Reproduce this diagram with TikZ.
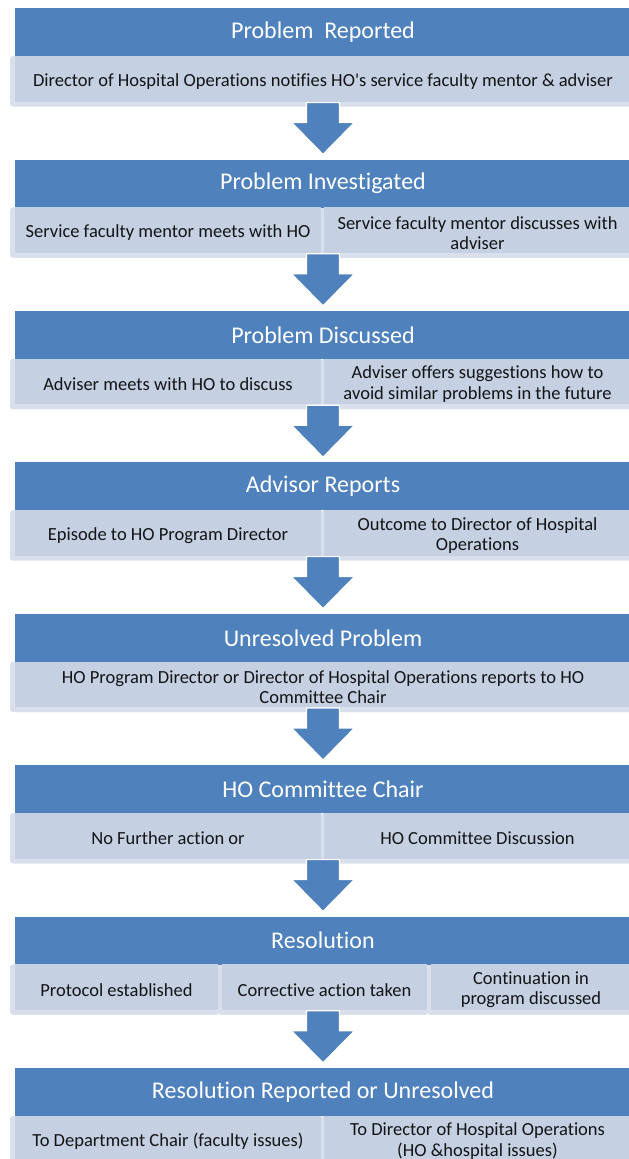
\documentclass[tikz,border=0pt]{standalone}
\usepackage{fontspec}
\setmainfont{Carlito}[Ligatures=CommonOff]
\usetikzlibrary{calc}
\definecolor{hdr}{HTML}{4F81BD}
\definecolor{cellc}{HTML}{C5D0E3}
\definecolor{cellfr}{HTML}{D9DFEB}
\definecolor{txt}{HTML}{141414}
\begin{document}
\begin{tikzpicture}[x=1pt,y=-1pt,
  header/.style={fill=hdr, draw=none, minimum width=616pt, minimum height=48pt, inner sep=0pt,
    text=white, font=\fontsize{24}{28}\selectfont, anchor=north},
  cell/.style={draw=none, inner sep=0pt, align=center,
    font=\fontsize{18.5}{20.5}\selectfont, text=txt},
  frame/.style={fill=cellfr, rounded corners=3pt},
  dark/.style={fill=cellc},
  blockarrow/.style={fill=hdr, draw=white, line width=1.2pt, line join=miter},
]
\useasboundingbox (0,0) rectangle (629,1159);
\clip (0,0) rectangle (629,1159);
\fill[white] (0,0) rectangle (629,1159);

% ---------- light frames of the cells ----------
\fill[frame] (10,56) rectangle (640,106.5);
\fill[frame] (10,207.4) rectangle (322,257.9);
\fill[frame] (321,207.4) rectangle (640,257.9);
\fill[frame] (10,358.8) rectangle (322,409.3);
\fill[frame] (321,358.8) rectangle (640,409.3);
\fill[frame] (10,510.2) rectangle (322,560.7);
\fill[frame] (321,510.2) rectangle (640,560.7);
\fill[frame] (10,661.6) rectangle (640,712.1);
\fill[frame] (10,813) rectangle (322,863.5);
\fill[frame] (321,813) rectangle (640,863.5);
\fill[frame] (10,964.4) rectangle (219,1014.9);
\fill[frame] (218,964.4) rectangle (428,1014.9);
\fill[frame] (427,964.4) rectangle (640,1014.9);
\fill[frame] (10,1115.8) rectangle (322,1166.3);
\fill[frame] (321,1115.8) rectangle (640,1166.3);

% ---------- headers ----------
\node[header] (h0) at (323,8) {Problem~ Reported};
\node[header] (h1) at (323,159.4) {Problem Investigated};
\node[header] (h2) at (323,310.8) {Problem Discussed};
\node[header] (h3) at (323,462.2) {Advisor Reports};
\node[header] (h4) at (323,613.6) {Unresolved Problem};
\node[header] (h5) at (323,765) {HO Committee Chair};
\node[header] (h6) at (323,916.4) {Resolution};
\node[header] (h7) at (323,1067.8) {Resolution Reported or Unresolved};

% ---------- block arrows ----------
\foreach \n in {h1,h2,h3,h4,h5,h6,h7}{
  \draw[blockarrow] ($(\n.north)+(-16.5,-57)$) -- ($(\n.north)+(-16.5,-37)$)
    -- ($(\n.north)+(-31.5,-37)$) -- ($(\n.north)+(0,-5)$)
    -- ($(\n.north)+(31.5,-37)$) -- ($(\n.north)+(16.5,-37)$)
    -- ($(\n.north)+(16.5,-57)$) -- cycle;
}

% ---------- darker cell faces ----------
\fill[dark] (15,56) rectangle (640,101.5);
\fill[dark] (15,207.4) rectangle (321,252.9);
\fill[dark] (324,207.4) rectangle (640,252.9);
\fill[dark] (15,358.8) rectangle (321,404.3);
\fill[dark] (324,358.8) rectangle (640,404.3);
\fill[dark] (15,510.2) rectangle (321,555.7);
\fill[dark] (324,510.2) rectangle (640,555.7);
\fill[dark] (15,661.6) rectangle (640,707.1);
\fill[dark] (15,813) rectangle (321,858.5);
\fill[dark] (324,813) rectangle (640,858.5);
\fill[dark] (15,964.4) rectangle (218,1009.9);
\fill[dark] (222,964.4) rectangle (427,1009.9);
\fill[dark] (431,964.4) rectangle (640,1009.9);
\fill[dark] (15,1115.8) rectangle (321,1161.3);
\fill[dark] (324,1115.8) rectangle (640,1161.3);

% ---------- cell texts ----------
\node[cell] (c0) at (323,81.5)
  {Director of Hospital Operations notifies HO\textquotesingle s service faculty mentor \& adviser};

\node[cell] (c1a) at (168,232.9) {Service faculty mentor meets with HO};
\node[cell] (c1b) at (477.5,232.9) {Service faculty mentor discusses with\\adviser};

\node[cell] (c2a) at (168,384.3) {Adviser meets with HO to discuss};
\node[cell] (c2b) at (477.5,384.3) {Adviser offers suggestions how to\\avoid similar problems in the future};

\node[cell] (c3a) at (168,535.7) {Episode to HO Program Director};
\node[cell] (c3b) at (477.5,535.7) {Outcome to Director of Hospital\\Operations};

\node[cell] (c4) at (323,687.1)
  {HO Program Director or Director of Hospital Operations reports to HO\\Committee Chair};

\node[cell] (c5a) at (168,838.5) {No Further action or};
\node[cell] (c5b) at (477.5,838.5) {HO Committee Discussion};

\node[cell] (c6a) at (116.5,989.9) {Protocol established};
\node[cell] (c6b) at (324.5,989.9) {Corrective action taken};
\node[cell] (c6c) at (531,989.9) {Continuation in\\program discussed};

\node[cell] (c7a) at (168,1141.3) {To Department Chair (faculty issues)};
\node[cell] (c7b) at (477.5,1141.3) {To Director of Hospital Operations\\(HO \&hospital issues)};
\end{tikzpicture}
\end{document}
